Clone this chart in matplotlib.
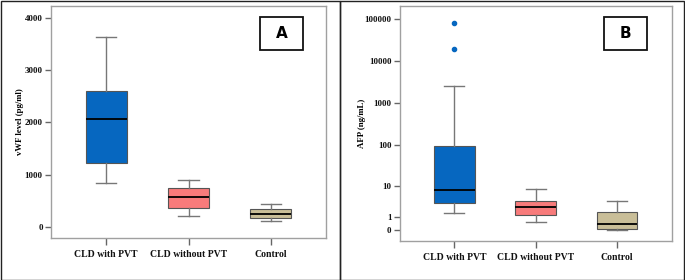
import numpy as np
import matplotlib
matplotlib.use('Agg')
import matplotlib.pyplot as plt
from matplotlib.patches import Rectangle

groups = ['CLD with PVT', 'CLD without PVT', 'Control']
colors = ['#0667c0', '#f87b7b', '#c9be98']

# panel A: vWF (pg/ml) -> whislo, q1, med, q3, whishi
vwf_stats = [
    [839, 1228, 2061, 2605, 3635],
    [211, 365, 570, 749, 896],
    [104, 167, 238, 334, 430],
]
vwf_ticks = [0, 1000, 2000, 3000, 4000]

# panel B: AFP (ng/mL)
afp_stats = [
    [1.6, 3.3, 7.9, 99, 2540],
    [0.52, 1.23, 2.5, 3.96, 8.5],
    [0.0, 0.04, 0.39, 1.62, 3.96],
]
afp_fliers = [[80400, 19100], [], []]
afp_ticks = [0, 1, 10, 100, 1000, 10000, 100000]

plt.rcParams['font.family'] = ['Liberation Serif', 'DejaVu Serif']

fig = plt.figure(figsize=(6.85, 2.8), dpi=100)

# outer frames
for x0, x1 in [(0.5, 340), (340, 684.5)]:
    fig.patches.append(Rectangle((x0 / 685, 0.5 / 280), (x1 - x0) / 685, 279 / 280,
                                 transform=fig.transFigure, fill=False,
                                 edgecolor='#222222', lw=1.0))


def draw_box(ax, stats, fliers):
    bxp = []
    for s, fl, g in zip(stats, fliers, groups):
        bxp.append(dict(whislo=s[0], q1=s[1], med=s[2], q3=s[3], whishi=s[4],
                        fliers=fl, label=g))
    b = ax.bxp(bxp, positions=[1, 2, 3], widths=0.5, patch_artist=True,
               showfliers=True,
               medianprops=dict(color='black', lw=1.3),
               whiskerprops=dict(color='#777777', lw=1.0),
               capprops=dict(color='#777777', lw=1.0),
               boxprops=dict(edgecolor='#555555', lw=0.8),
               flierprops=dict(marker='o', markersize=3,
                               markerfacecolor=colors[0],
                               markeredgecolor=colors[0]))
    for p, c in zip(b['boxes'], colors):
        p.set_facecolor(c)
    ax.set_xlim(0.33, 3.67)
    for sp in ax.spines.values():
        sp.set_color('#a0a0a0')
        sp.set_linewidth(1.0)
    ax.tick_params(axis='both', colors='#666666', labelcolor='#111111',
                   labelsize=7, length=4, width=1.0, pad=2)
    ax.tick_params(axis='x', length=5, pad=3.5)
    ax.tick_params(axis='y', labelsize=6.5)
    for lab in ax.get_xticklabels():
        lab.set_fontweight('bold')


axA = fig.add_axes([51 / 685, 42 / 280, 275 / 685, 232 / 280])
draw_box(axA, vwf_stats, [[], [], []])
axA.set_ylim(-217, 4236)
axA.set_yticks(vwf_ticks)
axA.set_yticklabels([str(t) for t in vwf_ticks])
for lab in axA.get_yticklabels():
    lab.set_fontweight('bold')
axA.set_ylabel('vWF level (pg/ml)', fontsize=6.3, fontweight='bold')
axA.yaxis.set_label_coords(-0.1, 0.5)

axB = fig.add_axes([399.7 / 685, 39 / 280, 272 / 685, 235 / 280])
axB.set_yscale('function', functions=(lambda v: np.log10(np.clip(v, -0.999, None) + 1),
                                      lambda v: 10 ** v - 1))
draw_box(axB, afp_stats, afp_fliers)
axB.set_ylim(10 ** -0.26 - 1, 10 ** 5.31 - 1)
axB.set_yticks(afp_ticks)
axB.set_yticklabels([str(t) for t in afp_ticks])
axB.yaxis.set_minor_locator(matplotlib.ticker.NullLocator())
for lab in axB.get_yticklabels():
    lab.set_fontweight('bold')
axB.set_ylabel('AFP (ng/mL)', fontsize=6.3, fontweight='bold')
axB.yaxis.set_label_coords(-0.124, 0.5)

# panel letters
for letter, x0 in [('A', 260), ('B', 604.3)]:
    fig.patches.append(Rectangle((x0 / 685, (280 - 50) / 280), 43 / 685, 33.3 / 280,
                                 transform=fig.transFigure, facecolor='white',
                                 edgecolor='#111111', lw=1.3, zorder=5))
    fig.text((x0 + 21.5) / 685, (280 - 33.3) / 280, letter, ha='center', va='center',
             fontsize=11, fontweight='bold', family='DejaVu Sans', zorder=6)

fig.savefig('out.png', dpi=100)
